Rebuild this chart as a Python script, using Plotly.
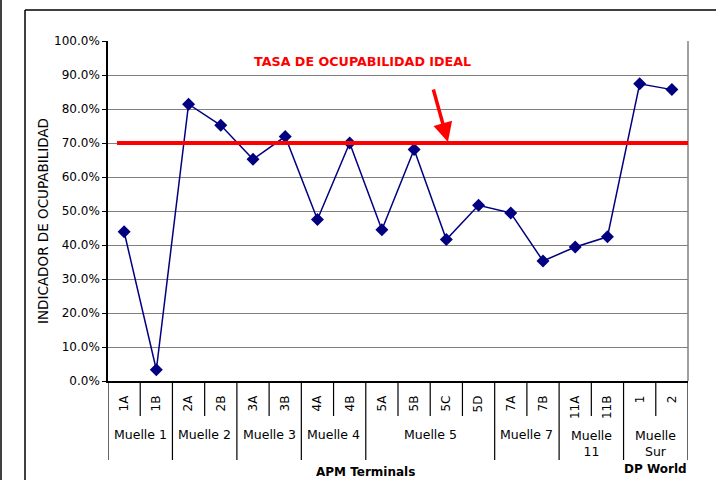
import plotly.graph_objects as go

categories = ["1A", "1B", "2A", "2B", "3A", "3B", "4A", "4B", "5A", "5B",
              "5C", "5D", "7A", "7B", "11A", "11B", "1", "2"]
values = [43.9, 3.3, 81.4, 75.2, 65.2, 71.9, 47.5, 70.0, 44.5, 68.1,
          41.6, 51.7, 49.4, 35.3, 39.4, 42.4, 87.4, 85.7]
groups = ["Muelle 1", "Muelle 2", "Muelle 3", "Muelle 4", "Muelle 5",
          "Muelle 7", "Muelle<br>11", "Muelle<br>Sur"]
group_sizes = [2, 2, 2, 2, 4, 2, 2, 2]
operators = ["APM Terminals", "DP World"]
operator_sizes = [16, 2]
ideal = 70
ideal_label = "TASA DE OCUPABILIDAD IDEAL"
y_title = "INDICADOR DE OCUPABILIDAD"

FONT = "DejaVu Sans"
W, H = 716, 480
L, R, T, B = 108, 28, 41, 99
PW, PH = W - L - R, H - T - B


def xp(px):
    return (px - L) / PW


def yp(py):
    return (H - B - py) / PH


fig = go.Figure()
fig.add_trace(go.Scatter(
    x=categories, y=values, mode="lines+markers",
    line=dict(color="#000080", width=1.5),
    marker=dict(symbol="diamond", size=10, color="#000080"),
    showlegend=False, cliponaxis=False,
))

shapes = []
annotations = []

# plot-area right border
shapes.append(dict(type="line", xref="paper", yref="paper", x0=1, x1=1, y0=0, y1=1,
                   line=dict(color="#808080", width=1.5)))
# ideal line
shapes.append(dict(type="line", xref="x", yref="y", x0=-0.22, x1=len(categories) - 0.43,
                   y0=ideal, y1=ideal, line=dict(color="#FF0000", width=4)))

# category table separators
group_bounds = [0]
for s in group_sizes:
    group_bounds.append(group_bounds[-1] + s)
for i in range(len(categories) + 1):
    bottom = 460 if i in group_bounds else 416
    shapes.append(dict(type="line", xref="x", yref="paper", x0=i - 0.5, x1=i - 0.5,
                       y0=0, y1=yp(bottom), line=dict(color="black", width=1.2)))

# group labels
for name, a, b in zip(groups, group_bounds[:-1], group_bounds[1:]):
    two = "<br>" in name
    annotations.append(dict(xref="x", yref="paper", x=(a + b - 1) / 2, y=yp(443.5 if two else 435),
                            text=name, showarrow=False, font=dict(family=FONT, size=12.5, color="black"),
                            xanchor="center", yanchor="middle"))

# operator labels
op_y = [472, 469]
start = 0
for name, s, yy in zip(operators, operator_sizes, op_y):
    annotations.append(dict(xref="x", yref="paper", x=start + (s - 1) / 2, y=yp(yy),
                            text="<b>%s</b>" % name, showarrow=False,
                            font=dict(family=FONT, size=12, color="black"),
                            xanchor="center", yanchor="middle"))
    start += s

# ideal label and arrow
annotations.append(dict(xref="paper", yref="paper", x=xp(362), y=yp(61),
                        text="<b>%s</b>" % ideal_label, showarrow=False,
                        font=dict(family=FONT, size=12.7, color="#FF0000"),
                        xanchor="center", yanchor="middle"))
annotations.append(dict(xref="x", yref="y", x=10.05, y=ideal + 0.3, ax=-15, ay=-54,
                        axref="pixel", ayref="pixel", text="", showarrow=True,
                        arrowhead=2, arrowsize=1.1, arrowwidth=3.5, arrowcolor="#FF0000"))

# y title
annotations.append(dict(xref="paper", yref="paper", x=xp(43), y=yp(221), text=y_title,
                        textangle=-90, showarrow=False,
                        font=dict(family=FONT, size=13.5, color="black"),
                        xanchor="center", yanchor="middle"))

# outer frame
shapes.append(dict(type="line", xref="paper", yref="paper", x0=xp(25), x1=xp(25),
                   y0=yp(10), y1=yp(482), line=dict(color="black", width=1.5)))
shapes.append(dict(type="line", xref="paper", yref="paper", x0=xp(25), x1=xp(720),
                   y0=yp(10), y1=yp(10), line=dict(color="black", width=1.5)))
shapes.append(dict(type="line", xref="paper", yref="paper", x0=xp(1), x1=xp(1),
                   y0=yp(-2), y1=yp(482), line=dict(color="black", width=1.5)))

fig.update_layout(
    width=W, height=H,
    margin=dict(l=L, r=R, t=T, b=B, autoexpand=False),
    paper_bgcolor="white", plot_bgcolor="white",
    font=dict(family=FONT, size=12, color="black"),
    shapes=shapes, annotations=annotations,
    xaxis=dict(type="category", range=[-0.5, len(categories) - 0.5],
               showgrid=False, showline=True, linecolor="black", linewidth=1.5,
               ticks="", tickangle=-90, ticklabelstandoff=8,
               tickfont=dict(family=FONT, size=12, color="black"), zeroline=False),
    yaxis=dict(range=[0, 100], dtick=10, tickformat=".1f", ticksuffix="%",
               showgrid=True, gridcolor="#808080", gridwidth=1.2,
               showline=True, linecolor="black", linewidth=1.5,
               ticks="outside", ticklen=4, tickcolor="black",
               tickfont=dict(family=FONT, size=12, color="black"), zeroline=False),
)

fig.write_html("out.html", config={"displayModeBar": False},
               post_script="document.body.style.margin='0';document.body.style.overflow='hidden';")
